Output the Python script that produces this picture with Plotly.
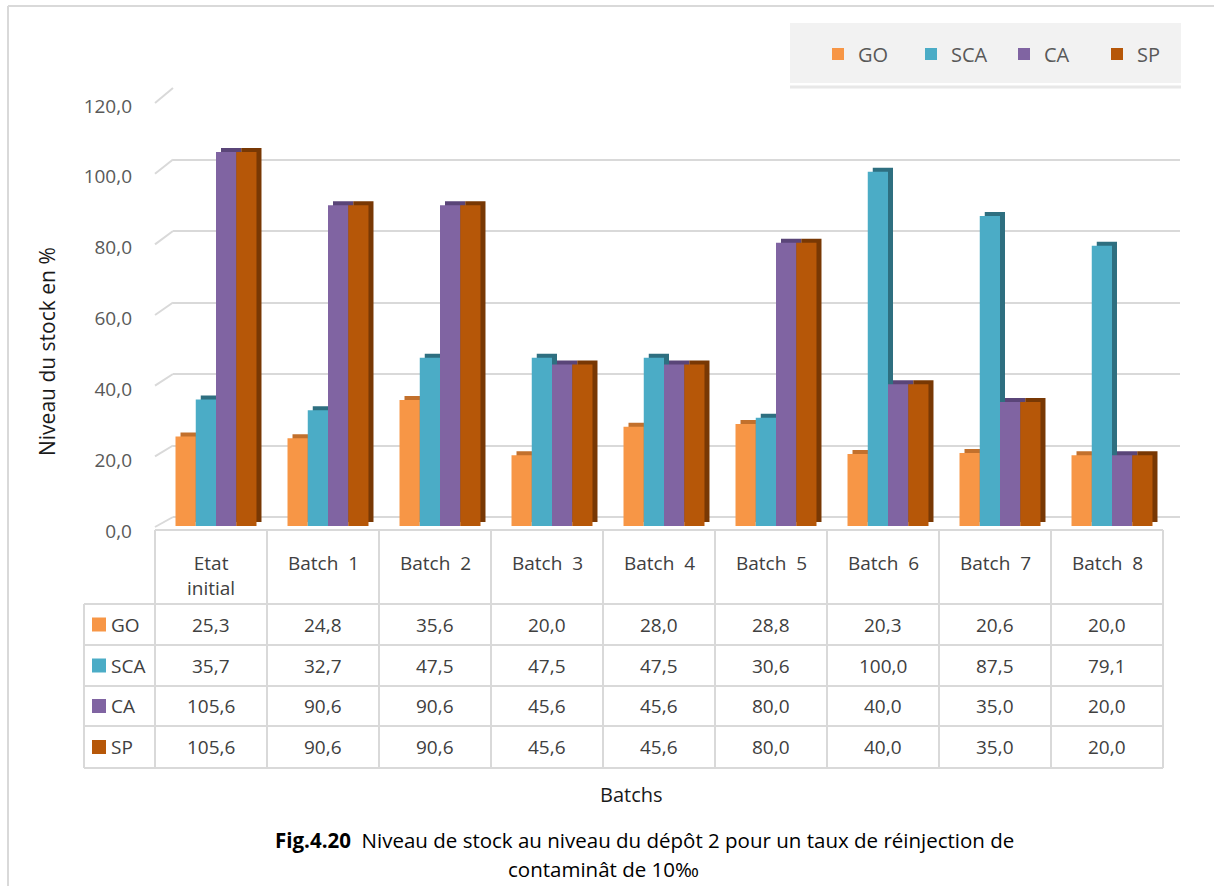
import plotly.graph_objects as go

# ---- data -------------------------------------------------------------
categories = ["Etat initial", "Batch 1", "Batch 2", "Batch 3", "Batch 4",
              "Batch 5", "Batch 6", "Batch 7", "Batch 8"]
series_names = ["GO", "SCA", "CA", "SP"]
go_values = [25.3, 24.8, 35.6, 20.0, 28.0, 28.8, 20.3, 20.6, 20.0]
sca_values = [35.7, 32.7, 47.5, 47.5, 47.5, 30.6, 100.0, 87.5, 79.1]
ca_values = [105.6, 90.6, 90.6, 45.6, 45.6, 80.0, 40.0, 35.0, 20.0]
sp_values = [105.6, 90.6, 90.6, 45.6, 45.6, 80.0, 40.0, 35.0, 20.0]
y_ticks = [0, 20, 40, 60, 80, 100, 120]

series_values = [go_values, sca_values, ca_values, sp_values]
face_colors = ["#F79646", "#4BACC6", "#8064A2", "#B65708"]
side_colors = ["#C2702C", "#2E6F80", "#5A4578", "#783804"]

# ---- page geometry (pixels) -------------------------------------------
W, H = 1214, 886
FONT = "Open Sans"


def px(x):
    return x / W


def py(y):
    return 1 - y / H


Y_MAX = 120
# front face of the bars
FRONT_X = (160, 1168)
FRONT_Y0, FRONT_Y1 = 526, 101
# extrusion of the bars (right side and top)
DEPTH_X, DEPTH_Y = 5, 4
# back wall carrying the grid
WALL_X = (173, 1180)
WALL_Y0, WALL_Y1 = 517, 88
# front edge of the floor (where the value labels sit)
EDGE_X = 155
EDGE_Y0, EDGE_Y1 = 527, 103

fig = go.Figure()

# extrusion layer (darker copies shifted up/right, drawn underneath)
for name, vals, col in zip(series_names, series_values, side_colors):
    fig.add_trace(go.Bar(x=categories, y=vals, name=name, marker_color=col,
                         marker_line_width=0, showlegend=False,
                         xaxis="x2", yaxis="y2", hoverinfo="skip"))

# front faces
for name, vals, col in zip(series_names, series_values, face_colors):
    fig.add_trace(go.Bar(x=categories, y=vals, name=name, marker_color=col,
                         marker_line_width=0, xaxis="x3", yaxis="y3"))

# back wall subplot (grid only)
fig.add_trace(go.Scatter(x=[0.5], y=[60], mode="markers", marker_opacity=0,
                         showlegend=False, hoverinfo="skip",
                         xaxis="x", yaxis="y"))

shapes = []
annotations = []

# outer frame of the chart area
shapes.append(dict(type="line", xref="paper", yref="paper", x0=px(8), x1=px(W + 5),
                   y0=py(6), y1=py(6), line=dict(color="#D9D9D9", width=2)))
shapes.append(dict(type="line", xref="paper", yref="paper", x0=px(8), x1=px(8),
                   y0=py(6), y1=py(H + 5), line=dict(color="#D9D9D9", width=2)))

# legend panel
shapes.append(dict(type="rect", xref="paper", yref="paper", x0=px(790), x1=px(1181),
                   y0=py(83), y1=py(23), fillcolor="#F2F2F2", line_width=0, layer="below"))
shapes.append(dict(type="line", xref="paper", yref="paper", x0=px(790), x1=px(1181),
                   y0=py(87), y1=py(87), line=dict(color="#E8E8E8", width=3), layer="below"))


def edge_y(v):
    return EDGE_Y0 + (EDGE_Y1 - EDGE_Y0) * v / Y_MAX


def wall_y(v):
    return WALL_Y0 + (WALL_Y1 - WALL_Y0) * v / Y_MAX


# short slanted side-wall segments joining the labels to the back grid
for v in y_ticks:
    shapes.append(dict(type="line", xref="paper", yref="paper",
                       x0=px(EDGE_X), y0=py(edge_y(v)),
                       x1=px(WALL_X[0]), y1=py(wall_y(v)),
                       line=dict(color="#D9D9D9", width=2), layer="below"))

# ---- data table under the plot ----------------------------------------
T_LEFT, T_KEY = 84, 155
COL_W = 112
HEAD_TOP = 530
ROW_EDGES = [604, 645, 686, 726, 768]
n_cols = len(categories)
T_RIGHT = T_KEY + COL_W * n_cols
grid_line = dict(color="#D9D9D9", width=2)

shapes.append(dict(type="line", xref="paper", yref="paper", x0=px(T_KEY), x1=px(T_RIGHT),
                   y0=py(HEAD_TOP), y1=py(HEAD_TOP), line=grid_line))
for yy in ROW_EDGES:
    shapes.append(dict(type="line", xref="paper", yref="paper", x0=px(T_LEFT), x1=px(T_RIGHT),
                       y0=py(yy), y1=py(yy), line=grid_line))
for i in range(n_cols + 1):
    xx = T_KEY + COL_W * i
    shapes.append(dict(type="line", xref="paper", yref="paper", x0=px(xx), x1=px(xx),
                       y0=py(HEAD_TOP), y1=py(ROW_EDGES[-1]), line=grid_line))
shapes.append(dict(type="line", xref="paper", yref="paper", x0=px(T_LEFT), x1=px(T_LEFT),
                   y0=py(ROW_EDGES[0]), y1=py(ROW_EDGES[-1]), line=grid_line))

cell_font = dict(family=FONT, size=19, color="#404040")

# header cells
for i, cat in enumerate(categories):
    label = cat.replace(" ", "<br>") if cat.startswith("Etat") else cat.replace(" ", "\u00a0\u00a0")
    annotations.append(dict(xref="paper", yref="paper", x=px(T_KEY + COL_W * (i + 0.5)),
                            y=py(548), yanchor="top", xanchor="center",
                            text=label, showarrow=False, font=cell_font))

# value rows with colour keys
for r, (name, vals, col) in enumerate(zip(series_names, series_values, face_colors)):
    yc = (ROW_EDGES[r] + ROW_EDGES[r + 1]) / 2
    shapes.append(dict(type="rect", xref="paper", yref="paper",
                       x0=px(92), x1=px(106), y0=py(yc - 7), y1=py(yc + 7),
                       fillcolor=col, line_width=0))
    annotations.append(dict(xref="paper", yref="paper", x=px(109), y=py(yc),
                            xanchor="left", yanchor="middle", text=name,
                            showarrow=False, font=cell_font))
    for i, v in enumerate(vals):
        annotations.append(dict(xref="paper", yref="paper",
                                x=px(T_KEY + COL_W * (i + 0.5)), y=py(yc),
                                xanchor="center", yanchor="middle",
                                text=f"{v:.1f}".replace(".", ","),
                                showarrow=False, font=cell_font))

# axis titles and caption
annotations.append(dict(xref="paper", yref="paper", x=px(47), y=py(352), textangle=-90,
                        xanchor="center", yanchor="middle",
                        text="Niveau du stock en %", showarrow=False,
                        font=dict(family=FONT, size=21, color="#1A1A1A")))
annotations.append(dict(xref="paper", yref="paper", x=px(631), y=py(794),
                        xanchor="center", yanchor="middle",
                        text="Batchs", showarrow=False,
                        font=dict(family=FONT, size=20, color="#1A1A1A")))
annotations.append(dict(xref="paper", yref="paper", x=px(644), y=py(840),
                        xanchor="center", yanchor="middle",
                        text="<b>Fig.4.20</b>  Niveau de stock au niveau du dépôt 2 pour un taux de réinjection de",
                        showarrow=False, font=dict(family=FONT, size=20.5, color="#000000")))
annotations.append(dict(xref="paper", yref="paper", x=px(603), y=py(869),
                        xanchor="center", yanchor="middle",
                        text="contaminât de 10‰", showarrow=False,
                        font=dict(family=FONT, size=20.5, color="#000000")))

hidden_x = dict(type="category", range=[-0.5, len(categories) - 0.5], showgrid=False,
                showticklabels=False, zeroline=False, showline=False, ticks="",
                automargin=False)

fig.update_layout(
    width=W, height=H,
    margin=dict(l=0, r=0, t=0, b=0, autoexpand=False),
    paper_bgcolor="white", plot_bgcolor="rgba(0,0,0,0)",
    separators=", ",
    barmode="group", bargap=0.277, bargroupgap=0,
    font=dict(family=FONT, color="#595959"),
    showlegend=True,
    legend=dict(orientation="h", x=px(818), y=py(54), xanchor="left", yanchor="middle",
                bgcolor="rgba(0,0,0,0)", borderwidth=0,
                font=dict(family=FONT, size=20, color="#595959"),
                entrywidth=48, entrywidthmode="pixels", itemclick=False),
    # back wall with the horizontal grid
    xaxis=dict(domain=[px(WALL_X[0]), px(WALL_X[1])], range=[0, 1], showgrid=False,
               showticklabels=False, zeroline=False, ticks="", anchor="y", automargin=False),
    yaxis=dict(domain=[py(WALL_Y0), py(WALL_Y1)], range=[0, Y_MAX], dtick=20,
               showgrid=True, gridcolor="#D9D9D9", gridwidth=2,
               zeroline=True, zerolinecolor="#D9D9D9", zerolinewidth=2,
               showticklabels=False, ticks="", anchor="x", automargin=False),
    # extrusion layer
    xaxis2=dict(hidden_x, domain=[px(FRONT_X[0] + DEPTH_X), px(FRONT_X[1] + DEPTH_X)], anchor="y2"),
    yaxis2=dict(domain=[py(FRONT_Y0 - DEPTH_Y), py(FRONT_Y1 - DEPTH_Y)], range=[0, Y_MAX],
                showgrid=False, zeroline=False, showticklabels=False, ticks="", anchor="x2",
                automargin=False),
    # front faces, with the value scale
    xaxis3=dict(hidden_x, domain=[px(FRONT_X[0]), px(FRONT_X[1])], anchor="y3"),
    yaxis3=dict(domain=[py(FRONT_Y0), py(FRONT_Y1)], range=[0, Y_MAX], dtick=20,
                tickformat=".1f", showgrid=False, zeroline=False, ticks="",
                ticklabelstandoff=27, ticklabelshift=5, anchor="x3", automargin=False,
                tickfont=dict(family=FONT, size=19, color="#595959")),
    shapes=shapes,
    annotations=annotations,
)

fig.write_html("out.html")
